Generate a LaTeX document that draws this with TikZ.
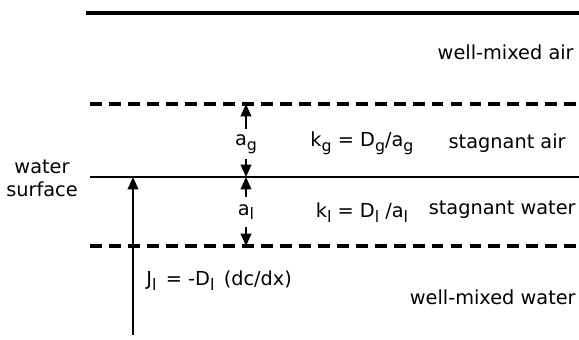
\documentclass[tikz,border=0pt]{standalone}
\usepackage{fontspec}
\setmainfont{DejaVu Sans}
\usetikzlibrary{arrows.meta,positioning}
\newcommand{\lsub}[1]{\raisebox{-0.45ex}{\fontsize{9}{10}\selectfont #1}}
\tikzset{
  bulk/.style={line width=2.2pt},
  surf/.style={line width=1.3pt},
  film/.style={line width=1.8pt,dash pattern=on 6.8pt off 4pt},
  lbl/.style={font=\fontsize{11}{13}\selectfont,inner sep=0pt,align=center},
}

\begin{document}
\begin{tikzpicture}[x=0.02cm,y=-0.02cm,
        arr/.style={-{Triangle[length=7pt,width=6pt]},line width=1.1pt},
      ]
        \useasboundingbox (0,0) rectangle (579,339);

        % layer boundaries
        \coordinate (airL) at (86,13);   \coordinate (airR) at (579,13);
        \coordinate (gasL) at (90,104);  \coordinate (gasR) at (579,104);
        \coordinate (srfL) at (90,177);  \coordinate (srfR) at (579,177);
        \coordinate (liqL) at (90,246);  \coordinate (liqR) at (579,246);
        \draw[bulk] (airL) -- (airR);
        \draw[film] (gasL) -- (gasR);
        \draw[surf] (srfL) -- (srfR);
        \draw[film] (liqL) -- (liqR);

        \node[lbl,anchor=east] (wmair) at (574,52) {well-mixed air};
        \node[lbl,anchor=east] (stair) at (566,143) {stagnant air};
        \node[lbl,anchor=east] (stwat) at (576,210) {stagnant water};
        \node[lbl,anchor=east] (wmwat) at (576,297) {well-mixed water};
        \node[lbl] (wsurf) at (42,178) {water\\surface};

        \node[lbl] (kg) at (362,143) {k\lsub{g} = D\lsub{g}/a\lsub{g}};
        \node[lbl] (kl) at (362,213) {k\lsub{l} = D\lsub{l} /a\lsub{l}};

        % film thicknesses
        \node[lbl,minimum height=17pt] (ag) at (246,144) {a\lsub{g}};
        \draw[arr] (ag.north) -- (ag.north |- gasL);
        \draw[arr] (ag.south) -- (ag.south |- srfL);
        \node[lbl,minimum height=17pt] (al) at (246,212) {a\lsub{l}};
        \draw[arr] (al.north) -- (al.north |- srfL);
        \draw[arr] (al.south) -- (al.south |- liqL);

        % flux
        \coordinate (fluxB) at (133,335);
        \draw[arr] (fluxB) -- (fluxB |- srfL);
        \node[lbl,anchor=west] (flux) at (146,281) {J\lsub{l}\, = -D\lsub{l}\, (dc/dx)};
      \end{tikzpicture}
\end{document}
